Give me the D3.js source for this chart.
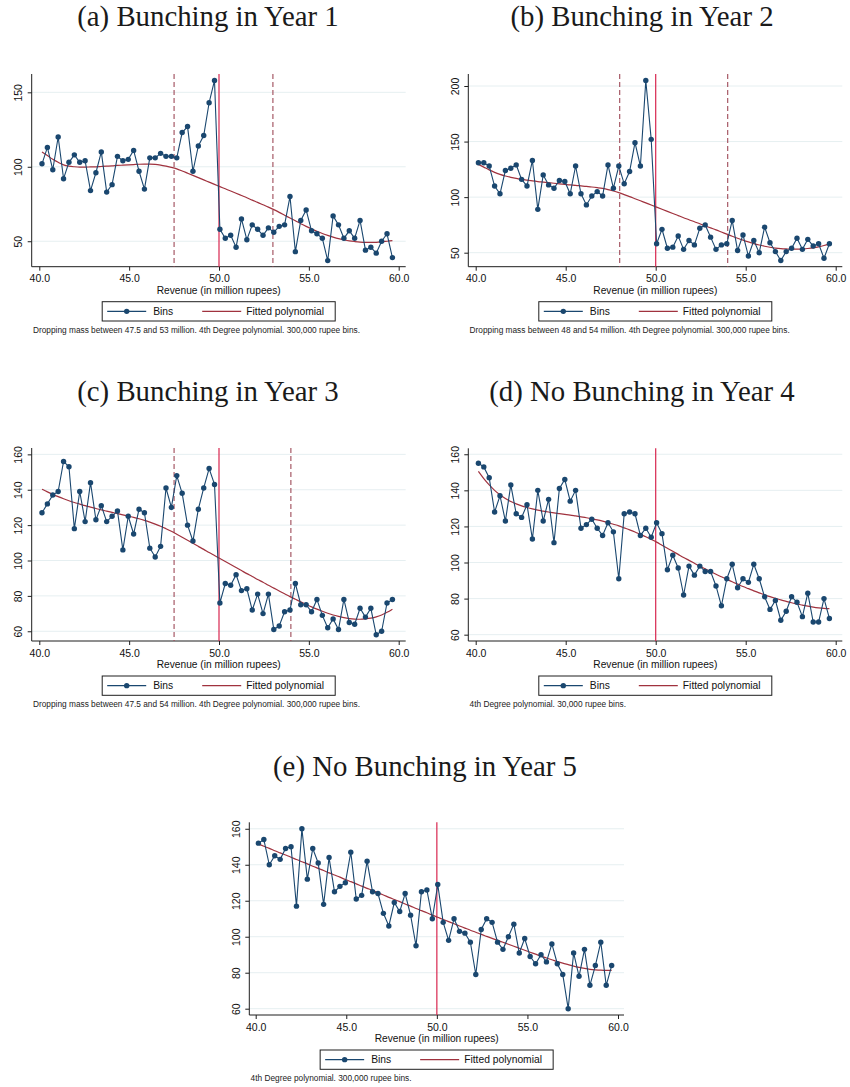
<!DOCTYPE html>
<html>
<head>
<meta charset="utf-8">
<script src="https://cdn.jsdelivr.net/npm/d3@7"></script>
<style>
  body { margin: 0; background: #ffffff; }
  svg { display: block; }
</style>
</head>
<body>
<svg id="fig" width="850" height="1087"></svg>
<script>
// Bin midpoints (million rupees), 300,000 rupee bins
const binMid = [40.15, 40.45, 40.75, 41.05, 41.35, 41.65, 41.95, 42.25, 42.55, 42.85,
  43.15, 43.45, 43.75, 44.05, 44.35, 44.65, 44.95, 45.25, 45.55, 45.85,
  46.15, 46.45, 46.75, 47.05, 47.35, 47.65, 47.95, 48.25, 48.55, 48.85,
  49.15, 49.45, 49.75, 50.05, 50.35, 50.65, 50.95, 51.25, 51.55, 51.85,
  52.15, 52.45, 52.75, 53.05, 53.35, 53.65, 53.95, 54.25, 54.55, 54.85,
  55.15, 55.45, 55.75, 56.05, 56.35, 56.65, 56.95, 57.25, 57.55, 57.85,
  58.15, 58.45, 58.75, 59.05, 59.35, 59.65];

// Firm counts per bin
const countsYear1 = [102,113,98,120,92,103,108,103,104,84,96,110,83,88,107,104,105,111,97,85,
  106,106,109,107,107,106,123,127,97,114,121,143,158,58,52,54,46,65,51,61,
  58,54,59,56,60,61,80,43,64,71,57,55,52,37,67,61,52,57,52,64,44,46,42,50,55,39];
const countsYear2 = [131,131,128,110,103,124,126,129,116,110,133,89,120,111,108,115,114,103,128,103,
  93,101,105,101,129,108,128,112,123,149,128,205,152,58,71,54,55,65,53,61,
  57,72,75,64,53,57,58,79,52,66,47,61,50,73,59,51,43,51,54,63,53,62,56,58,45,58];
const countsYear3 = [127,132,137,139,156,153,118,139,122,144,123,131,122,125,128,106,125,115,129,127,
  107,102,108,141,130,148,138,120,111,129,141,152,143,76,87,86,92,83,84,72,
  81,70,81,61,63,71,72,87,75,75,71,78,69,62,67,61,78,65,64,73,68,73,58,60,76,78];
const countsYear4 = [155,153,147,128,137,123,143,127,125,132,113,140,123,135,111,141,146,134,140,119,
  121,124,119,115,122,117,91,127,128,127,115,119,114,122,116,96,104,97,82,98,
  93,98,95,95,87,76,91,99,86,91,89,99,91,81,74,79,68,73,81,78,70,83,67,67,80,69];
const countsYear5 = [152,154,140,145,143,149,150,117,160,132,149,141,118,144,125,128,130,147,121,123,
  142,125,124,113,106,119,114,124,112,95,125,126,110,129,108,98,110,103,102,97,
  79,104,110,108,97,93,100,107,91,99,89,85,90,86,96,85,79,60,91,78,93,73,84,97,73,84];

// Fitted 4th-degree polynomial (counterfactual) at each bin
const fitYear1 = [110,107.5,105,103,101.3,100.4,100,99.8,99.8,99.9,100,100.2,100.4,100.6,100.9,101.1,101.3,101.5,101.7,101.8,
  101.8,101.6,101.1,100.4,99.6,98.6,97.2,95.7,94.2,92.7,91.2,89.7,88.2,86.7,85.2,83.7,82.2,80.7,79.2,77.6,
  76.1,74.5,72.9,71.2,69.4,67.5,65.6,63.7,61.8,60,58.3,56.7,55.2,53.9,52.8,51.8,51,50.3,49.8,49.4,
  49.2,49.2,49.3,49.6,50,50.4];
const fitYear2 = [129.5,127,124.5,122.3,120.5,119,117.8,116.8,116,115.3,114.6,114,113.5,113,112.5,112,111.5,111,110.6,110.1,
  109.6,109.1,108.5,107.8,106.8,105.5,104,102.3,100.5,98.6,96.7,94.8,92.9,91,89.1,87.2,85.3,83.4,81.5,79.7,
  77.8,76,74.1,72.3,70.5,68.6,66.7,64.8,63,61.3,59.7,58.2,56.9,55.8,54.9,54.2,53.7,53.4,53.2,53.2,
  53.4,53.8,54.4,55.3,56.5,58];
const fitYear3 = [140.3,138.8,137.4,136.1,134.9,133.8,132.8,131.9,131,130.2,129.4,128.6,127.9,127.2,126.5,125.8,125.1,124.4,123.6,122.7,
  121.7,120.6,119.4,118,116.5,114.8,113.1,111.4,109.7,108,106.3,104.5,102.8,101.1,99.4,97.7,96,94.3,92.6,91,
  89.3,87.7,86,84.4,82.8,81.2,79.6,78.1,76.6,75.2,73.8,72.5,71.3,70.2,69.2,68.4,67.7,67.2,66.9,66.8,
  67,67.4,68.1,69.2,70.7,72.5];
const fitYear4 = [150.5,146.5,143,140,137.5,135.5,133.8,132.5,131.4,130.5,129.7,129,128.5,128,127.5,127.1,126.7,126.3,125.8,125.3,
  124.8,124.2,123.6,122.9,122.1,121.2,120.3,119.2,118.1,116.9,115.6,114.3,112.8,111.3,109.6,107.9,106.2,104.5,102.8,101.2,
  99.6,98,96.5,95,93.5,92.1,90.7,89.3,88,86.7,85.5,84.3,83.2,82.1,81.1,80.2,79.3,78.5,77.7,77,
  76.4,75.8,75.3,74.9,74.6,74.4];
const fitYear5 = [151.5,150.3,149.1,147.8,146.6,145.4,144.2,142.9,141.7,140.5,139.2,138,136.8,135.5,134.3,133.1,131.8,130.6,129.4,128.1,
  126.9,125.7,124.4,123.2,121.9,120.7,119.5,118.2,117,115.7,114.5,113.3,112,110.8,109.6,108.4,107.2,106,104.8,103.6,
  102.5,101.3,100.2,99.1,98,96.9,95.8,94.7,93.6,92.5,91.4,90.3,89.2,88.2,87.2,86.2,85.3,84.5,83.7,83,
  82.4,81.9,81.6,81.4,81.3,81.3];

// Axis ticks
const xTicks = [40, 45, 50, 55, 60];
const yTicksWide = [50, 100, 150];
const yTicksTall = [50, 100, 150, 200];
const yTicksFine = [60, 80, 100, 120, 140, 160];

// Notch (tax threshold) and excluded bunching windows
const notch = 50;
const windowYear1 = [47.5, 53];
const windowYear2 = [48, 54];
const windowYear3 = [47.5, 54];

const titles = ["(a) Bunching in Year 1", "(b) Bunching in Year 2", "(c) Bunching in Year 3",
  "(d) No Bunching in Year 4", "(e) No Bunching in Year 5"];
const notes = [
  "Dropping mass between 47.5 and 53 million. 4th Degree polynomial. 300,000 rupee bins.",
  "Dropping mass between 48 and 54 million. 4th Degree polynomial. 300,000 rupee bins.",
  "Dropping mass between 47.5 and 54 million. 4th Degree polynomial. 300,000 rupee bins.",
  "4th Degree polynomial. 30,000 rupee bins.",
  "4th Degree polynomial. 300,000 rupee bins."
];
const xTitle = "Revenue (in million rupees)";
const legendLabels = ["Bins", "Fitted polynomial"];

// Colours
const C = {
  bins: "#1a476f",
  fit: "#a0323e",
  notch: "#d8264f",
  dash: "#9e4a58",
  grid: "#e6eff1",
  axis: "#1e1e1e",
  text: "#111111"
};

// Panel layout (pixels)
const panels = [
  { title: titles[0], counts: countsYear1, fit: fitYear1, yTicks: yTicksWide, yDom: [32.9, 162.3], win: windowYear1, note: notes[0],
    box: { left: 31.7, right: 405.7, top: 74, bottom: 266.7, x40: 39.3, x60: 398.7 }, titleX: 208, titleY: 26 },
  { title: titles[1], counts: countsYear2, fit: fitYear2, yTicks: yTicksTall, yDom: [37.4, 210.8], win: windowYear2, note: notes[1],
    box: { left: 468.3, right: 842.3, top: 74, bottom: 266.7, x40: 475.7, x60: 835.7 }, titleX: 642, titleY: 26 },
  { title: titles[2], counts: countsYear3, fit: fitYear3, yTicks: yTicksFine, yDom: [54.5, 163.6], win: windowYear3, note: notes[2],
    box: { left: 31.7, right: 405.7, top: 448, bottom: 641, x40: 39.3, x60: 398.7 }, titleX: 208, titleY: 401 },
  { title: titles[3], counts: countsYear4, fit: fitYear4, yTicks: yTicksFine, yDom: [56.5, 163.3], win: null, note: notes[3],
    box: { left: 468.3, right: 842.3, top: 448.3, bottom: 641, x40: 475.7, x60: 835.7 }, titleX: 642, titleY: 401 },
  { title: titles[4], counts: countsYear5, fit: fitYear5, yTicks: yTicksFine, yDom: [56.5, 163.6], win: null, note: notes[4],
    box: { left: 249.3, right: 624, top: 822.3, bottom: 1015, x40: 255.7, x60: 618 }, titleX: 425, titleY: 776 }
];

const svg = d3.select("#fig");
const sans = "'Liberation Sans', Arial, Helvetica, sans-serif";
const serif = "'Liberation Serif', 'Times New Roman', serif";

panels.forEach(p => {
  const b = p.box;
  const g = svg.append("g");
  const x = d3.scaleLinear().domain([40, 60]).range([b.x40, b.x60]);
  const y = d3.scaleLinear().domain(p.yDom).range([b.bottom, b.top]);

  // Panel title
  svg.append("text")
    .attr("x", p.titleX).attr("y", p.titleY)
    .attr("text-anchor", "middle")
    .attr("font-family", serif).attr("font-size", 28.8)
    .attr("fill", "#1a1a1a")
    .text(p.title);

  // Horizontal gridlines
  g.selectAll("line.grid").data(p.yTicks).join("line")
    .attr("class", "grid")
    .attr("x1", b.left).attr("x2", b.right)
    .attr("y1", d => y(d)).attr("y2", d => y(d))
    .attr("stroke", C.grid).attr("stroke-width", 1);

  // Y axis
  const yAxis = d3.axisLeft(y).tickValues(p.yTicks).tickSize(4).tickSizeOuter(0).tickFormat(d3.format("d"));
  const ya = g.append("g").attr("transform", `translate(${b.left},0)`).call(yAxis);
  ya.select(".domain").attr("d", `M0,${b.top}V${b.bottom}`).attr("stroke", C.axis);
  ya.selectAll(".tick line").attr("stroke", C.axis);
  ya.selectAll(".tick text")
    .attr("font-family", sans).attr("font-size", 10.5).attr("fill", C.text)
    .attr("x", null).attr("dy", null)
    .attr("text-anchor", "middle")
    .attr("transform", "translate(-9.8,0) rotate(-90)");

  // X axis
  const xAxis = d3.axisBottom(x).tickValues(xTicks).tickSize(4).tickSizeOuter(0).tickFormat(d3.format(".1f"));
  const xa = g.append("g").attr("transform", `translate(0,${b.bottom})`).call(xAxis);
  xa.select(".domain").attr("d", `M${b.left},0H${b.right}`).attr("stroke", C.axis);
  xa.selectAll(".tick line").attr("stroke", C.axis);
  xa.selectAll(".tick text")
    .attr("font-family", sans).attr("font-size", 10.5).attr("fill", C.text)
    .attr("y", 15.5).attr("dy", null);
  svg.selectAll(".domain").attr("stroke-width", 1);

  g.append("text")
    .attr("x", (b.left + b.right) / 2).attr("y", b.bottom + 27)
    .attr("text-anchor", "middle")
    .attr("font-family", sans).attr("font-size", 10.2).attr("fill", C.text)
    .text(xTitle);

  // Excluded window bounds
  if (p.win) {
    g.selectAll("line.win").data(p.win).join("line")
      .attr("class", "win")
      .attr("x1", d => x(d)).attr("x2", d => x(d))
      .attr("y1", b.top).attr("y2", b.bottom)
      .attr("stroke", C.dash).attr("stroke-width", 1.1)
      .attr("stroke-dasharray", "5,3");
  }
  // Notch
  g.append("line")
    .attr("x1", x(notch)).attr("x2", x(notch))
    .attr("y1", b.top).attr("y2", b.bottom)
    .attr("stroke", C.notch).attr("stroke-width", 1.2);

  // Fitted polynomial
  const fitLine = d3.line().x((d, i) => x(binMid[i])).y(d => y(d)).curve(d3.curveMonotoneX);
  g.append("path").datum(p.fit)
    .attr("d", fitLine)
    .attr("fill", "none").attr("stroke", C.fit).attr("stroke-width", 1.2);

  // Bins: connected markers
  const binLine = d3.line().x((d, i) => x(binMid[i])).y(d => y(d));
  g.append("path").datum(p.counts)
    .attr("d", binLine)
    .attr("fill", "none").attr("stroke", C.bins).attr("stroke-width", 1.1);
  g.selectAll("circle.bin").data(p.counts).join("circle")
    .attr("class", "bin")
    .attr("cx", (d, i) => x(binMid[i])).attr("cy", d => y(d))
    .attr("r", 2.7).attr("fill", C.bins);

  // Legend
  const lw = 233, lh = 19.3;
  const lx = (b.left + b.right) / 2 - lw / 2, ly = b.bottom + 35;
  const lg = g.append("g").attr("transform", `translate(${lx},${ly})`);
  lg.append("rect").attr("width", lw).attr("height", lh)
    .attr("fill", "#fff").attr("stroke", C.axis).attr("stroke-width", 1);
  const my = lh / 2;
  lg.append("line").attr("x1", 5).attr("x2", 44).attr("y1", my).attr("y2", my)
    .attr("stroke", C.bins).attr("stroke-width", 1.1);
  lg.append("circle").attr("cx", 24.5).attr("cy", my).attr("r", 2.7).attr("fill", C.bins);
  lg.append("text").attr("x", 51).attr("y", my + 3.7)
    .attr("font-family", sans).attr("font-size", 10.3).attr("fill", C.text).text(legendLabels[0]);
  lg.append("line").attr("x1", 100).attr("x2", 139).attr("y1", my).attr("y2", my)
    .attr("stroke", C.fit).attr("stroke-width", 1.1);
  lg.append("text").attr("x", 144).attr("y", my + 3.7)
    .attr("font-family", sans).attr("font-size", 10.3).attr("fill", C.text).text(legendLabels[1]);

  // Note
  g.append("text")
    .attr("x", b.left + 1.3).attr("y", b.bottom + 66)
    .attr("font-family", sans).attr("font-size", 8.3).attr("fill", "#222")
    .text(p.note);
});
</script>
</body>
</html>
